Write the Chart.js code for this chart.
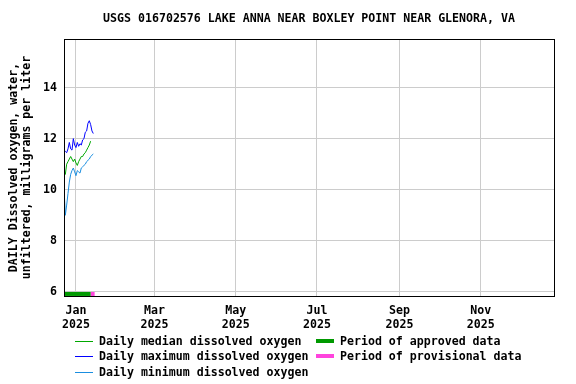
<!DOCTYPE html>
<html>
<head>
<meta charset="utf-8">
<script src="https://cdn.jsdelivr.net/npm/chart.js@4/dist/chart.umd.min.js"></script>
<style>
  html, body { margin: 0; padding: 0; background: #fff; }
  #wrap { width: 576px; height: 384px; position: relative; }
</style>
</head>
<body>
<div id="wrap"><canvas id="chart"></canvas></div>
<script>
// daily values, Dec 23 2024 .. Jan 14 2025
const dates = [
  "2024-12-23", "2024-12-24", "2024-12-25", "2024-12-26", "2024-12-27", "2024-12-28",
  "2024-12-29", "2024-12-30", "2024-12-31", "2025-01-01", "2025-01-02", "2025-01-03",
  "2025-01-04", "2025-01-05", "2025-01-06", "2025-01-07", "2025-01-08", "2025-01-09",
  "2025-01-10", "2025-01-11", "2025-01-12", "2025-01-13", "2025-01-14"
];
const maxDO = [11.45, 11.5, 11.45, 11.6, 11.85, 11.6, 11.55, 12.0, 11.75, 11.65, 11.85, 11.7,
  11.8, 11.75, 11.95, 12.0, 12.25, 12.3, 12.6, 12.7, 12.55, 12.3, 12.2];
const medianDO = [10.8, 10.6, 11.0, 11.1, 11.2, 11.3, 11.2, 11.1, 11.2, 11.05, 10.95, 11.1,
  11.2, 11.3, 11.3, 11.4, 11.45, 11.55, 11.65, 11.75, 11.9];
const minDO = [10.1, 9.0, 9.4, 9.85, 10.3, 10.6, 10.75, 10.85, 10.7, 10.55, 10.75, 10.7,
  10.65, 10.85, 10.9, 10.95, 11.0, 11.1, 11.15, 11.2, 11.3, 11.35, 11.4];

const approvedPeriod = ["2024-12-23", "2025-01-12"];
const provisionalPeriod = ["2025-01-12", "2025-01-15"];

const monthTicks = ["2025-01-01", "2025-03-01", "2025-05-01", "2025-07-01", "2025-09-01", "2025-11-01"];
const monthLabels = [["Jan", "2025"], ["Mar", "2025"], ["May", "2025"], ["Jul", "2025"], ["Sep", "2025"], ["Nov", "2025"]];
const yTicks = [6, 8, 10, 12, 14];

const chartTitle = 'USGS 016702576 LAKE ANNA NEAR BOXLEY POINT NEAR GLENORA, VA';
const seriesLabels = [
  "Daily median dissolved oxygen",
  "Daily maximum dissolved oxygen",
  "Daily minimum dissolved oxygen",
  "Period of approved data",
  "Period of provisional data"
];

const FONT = "'DejaVu Sans Mono', 'Liberation Mono', monospace";
const C_MED = '#00a800', C_MAX = '#0000ff', C_MIN = '#1a8ee0';
const C_APP = '#009900', C_PROV = '#ff44dd';

// days since Jan 1 2025
const day0 = Date.UTC(2025, 0, 1);
function dayOf(s) {
  const [y, m, d] = s.split('-').map(Number);
  return (Date.UTC(y, m - 1, d) - day0) / 86400000;
}
const pts = (vals) => vals.map((v, i) => ({ x: dayOf(dates[i]), y: v }));
const barY = 5.92;
const period = (p) => p.map(d => ({ x: dayOf(d), y: barY }));

const lineDs = (label, data, color) => ({
  label, data, borderColor: color, backgroundColor: color,
  borderWidth: 1, pointRadius: 0, tension: 0, fill: false
});
const barDs = (label, data, color) => ({
  label, data, borderColor: color, backgroundColor: color,
  borderWidth: 4, borderCapStyle: 'butt', pointRadius: 0, fill: false
});

// title centred over the plot, frame round the plot, legend below it
const framePlugin = {
  id: 'frame',
  afterDraw(chart) {
    const { ctx, chartArea: a } = chart;
    ctx.save();
    ctx.strokeStyle = '#000';
    ctx.lineWidth = 1;
    ctx.strokeRect(Math.round(a.left) + 0.5, Math.round(a.top) + 0.5,
      Math.round(a.right - a.left), Math.round(a.bottom - a.top));

    ctx.font = "bold 11.6px " + FONT;
    ctx.textBaseline = 'middle';
    ctx.fillStyle = '#000';
    ctx.textAlign = 'center';
    ctx.fillText(chartTitle, (a.left + a.right) / 2, 19);
    ctx.textAlign = 'left';

    const rows = [341, 356, 372];
    const col1 = [[seriesLabels[0], C_MED], [seriesLabels[1], C_MAX], [seriesLabels[2], C_MIN]];
    col1.forEach(([t, c], i) => {
      ctx.strokeStyle = c; ctx.lineWidth = 1;
      ctx.beginPath(); ctx.moveTo(75, rows[i] + 0.5); ctx.lineTo(93, rows[i] + 0.5); ctx.stroke();
      ctx.fillText(t, 99, rows[i] + 1);
    });
    const col2 = [[seriesLabels[3], C_APP], [seriesLabels[4], C_PROV]];
    col2.forEach(([t, c], i) => {
      ctx.fillStyle = c;
      ctx.fillRect(316, rows[i] - 2, 18, 4);
      ctx.fillStyle = '#000';
      ctx.fillText(t, 340, rows[i] + 1);
    });
    ctx.restore();
  }
};

new Chart(document.getElementById('chart'), {
  type: 'line',
  data: {
    datasets: [
      lineDs(seriesLabels[0], pts(medianDO), C_MED),
      lineDs(seriesLabels[1], pts(maxDO), C_MAX),
      lineDs(seriesLabels[2], pts(minDO), C_MIN),
      barDs(seriesLabels[3], period(approvedPeriod), C_APP),
      barDs(seriesLabels[4], period(provisionalPeriod), C_PROV)
    ]
  },
  options: {
    responsive: true,
    maintainAspectRatio: false,
    animation: false,
    layout: { padding: { top: 39, left: 0, right: 22, bottom: 48 } },
    plugins: {
      legend: { display: false },
      tooltip: { enabled: false },
      title: { display: false }
    },
    scales: {
      x: {
        type: 'linear',
        min: -9,
        max: 359,
        afterBuildTicks: (s) => { s.ticks = monthTicks.map(d => ({ value: dayOf(d) })); },
        afterFit: (s) => { s.height = 40; },
        grid: { color: '#cccccc', lineWidth: 1, drawTicks: false },
        border: { display: false },
        ticks: {
          autoSkip: false, maxRotation: 0, padding: 8, color: '#000',
          font: { family: FONT, size: 11.6, weight: 'bold', lineHeight: 1.2 },
          callback: (v, i) => monthLabels[i]
        }
      },
      y: {
        min: 5.84,
        max: 15.9,
        afterBuildTicks: (s) => { s.ticks = yTicks.map(v => ({ value: v })); },
        afterFit: (s) => { s.width = 64; },
        grid: { color: '#cccccc', lineWidth: 1, drawTicks: false },
        border: { display: false },
        ticks: {
          padding: 7, color: '#000',
          font: { family: FONT, size: 11.6, weight: 'bold' }
        },
        title: {
          display: true,
          text: ['DAILY Dissolved oxygen, water,', 'unfiltered, milligrams per liter'],
          color: '#000',
          font: { family: FONT, size: 11.6, weight: 'bold', lineHeight: 1.12 },
          padding: { top: 7.5, bottom: 0 }
        }
      }
    }
  },
  plugins: [framePlugin]
});
</script>
</body>
</html>
